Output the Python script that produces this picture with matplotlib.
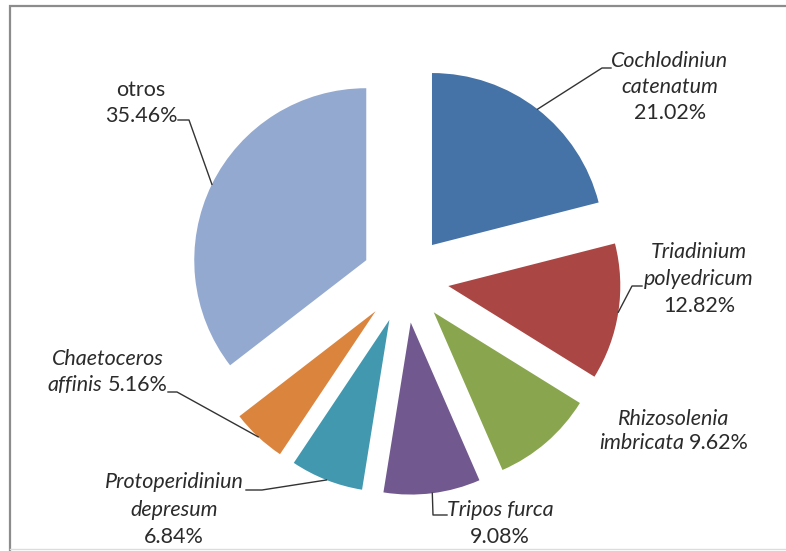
import matplotlib
matplotlib.use("Agg")
import matplotlib.pyplot as plt
import numpy as np

W, H = 786, 551

# Composition of the phytoplankton community (% of total abundance)
genus = ["Cochlodiniun", "Triadinium", "Rhizosolenia", "Tripos",
         "Protoperidiniun", "Chaetoceros", "otros"]
epithet = ["catenatum", "polyedricum", "imbricata", "furca",
           "depresum", "affinis", ""]
shares = [21.02, 12.82, 9.62, 9.08, 6.84, 5.16, 35.46]
colors = ["#4572A7", "#AA4643", "#89A54E", "#71588F",
          "#4198AF", "#DB843D", "#93A9CF"]

FONT = "Lato"
TEXT_COLOR = "#2b2b2b"
FS = 15.5

fig = plt.figure(figsize=(W / 100, H / 100), dpi=100)
fig.patch.set_facecolor("white")
ax = fig.add_axes([0, 0, 1, 1])

center = (405.3, H - 279.4)
radius = 172
wedges, _ = ax.pie(shares, colors=colors, startangle=90, counterclock=False,
                   center=center, radius=radius, explode=[43.5] * len(shares),
                   wedgeprops=dict(linewidth=0))
ax.set_xlim(0, W)
ax.set_ylim(0, H)
ax.set_aspect("equal")
ax.axis("off")

# chart frame
ax.plot([10, 10, W + 5], [0, H - 6, H - 6], color="#8c8c8c", lw=1.6,
        solid_joinstyle="miter", clip_on=False)
ax.plot([10, W + 5], [2, 2], color="#dcdcdc", lw=1.0, clip_on=False)


def pct(v):
    return f"{v:.2f}%"


# label lines: list of lines, each line a list of (text, italic)
labels = [
    [[(genus[0], True)], [(epithet[0], True)], [(pct(shares[0]), False)]],
    [[(genus[1], True)], [(epithet[1], True)], [(pct(shares[1]), False)]],
    [[(genus[2], True)], [(epithet[2], True), (pct(shares[2]), False)]],
    [[(genus[3] + " " + epithet[3], True)], [(pct(shares[3]), False)]],
    [[(genus[4], True)], [(epithet[4], True)], [(pct(shares[4]), False)]],
    [[(genus[5], True)], [(epithet[5], True), (pct(shares[5]), False)]],
    [[(genus[6], False)], [(pct(shares[6]), False)]],
]

# label anchor: center x and centre y of each line (pixels from top)
label_x = [670, 699, 674, 500, 174, 108, 141]
label_y = [[61, 87, 113], [252, 279, 306], [419, 443], [510, 537],
           [482, 510, 537], [359, 385], [90, 116]]

# leader elbows (pixels from top); the first point is the arc midpoint
leaders = {
    0: [(602, 68), (611, 68)],
    1: [(632, 286), (642, 286)],
    3: [(433, 515), (447, 515)],
    4: [(262, 490), (246, 490)],
    5: [(177, 392), (168, 392)],
    6: [(189, 120), (178, 120)],
}

renderer = fig.canvas.get_renderer()


def text_width(s, italic):
    t = ax.text(0, 0, s, fontsize=FS, family=FONT,
                style="italic" if italic else "normal")
    w = t.get_window_extent(renderer).width
    t.remove()
    return w


space_w = text_width("a a", False) - text_width("aa", False)

for lines, cx, ys in zip(labels, label_x, label_y):
    for parts, y in zip(lines, ys):
        widths = [text_width(s, it) for s, it in parts]
        total = sum(widths) + space_w * (len(parts) - 1)
        x = cx - total / 2
        for (s, it), w in zip(parts, widths):
            ax.text(x, H - y, s, fontsize=FS, family=FONT,
                    style="italic" if it else "normal", color=TEXT_COLOR,
                    ha="left", va="center")
            x += w + space_w

for i, pts in leaders.items():
    w = wedges[i]
    tm = np.deg2rad((w.theta1 + w.theta2) / 2)
    x0 = w.center[0] + w.r * np.cos(tm)
    y0 = w.center[1] + w.r * np.sin(tm)
    xs = [x0] + [p[0] for p in pts]
    ys = [y0] + [H - p[1] for p in pts]
    ax.plot(xs, ys, color="#333333", lw=1.0)

fig.savefig("out.png", dpi=100, facecolor="white")
